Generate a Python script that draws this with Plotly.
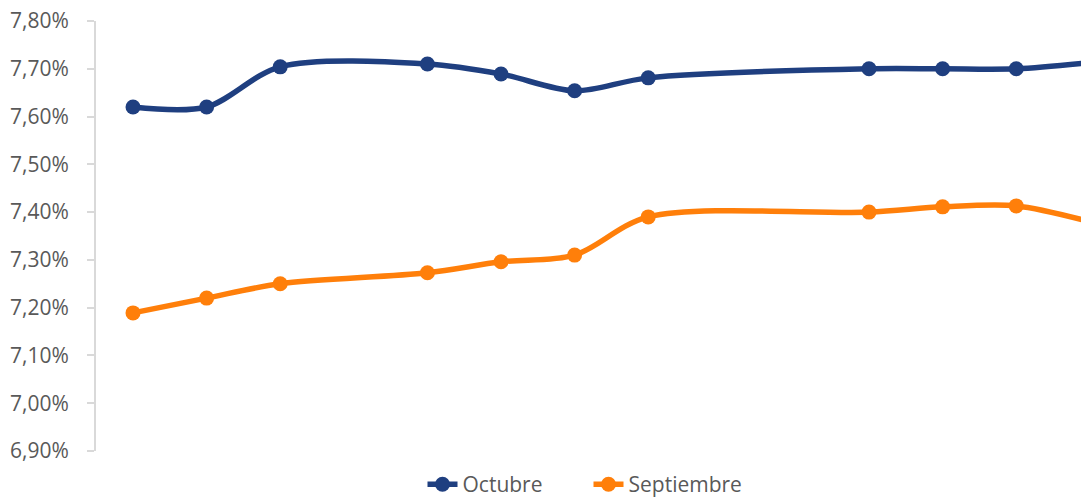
import plotly.graph_objects as go

# Day index of each observation (gaps = days without data)
dias = [0, 1, 2, 4, 5, 6, 7, 10, 11, 12, 13]
octubre = [7.620, 7.620, 7.704, 7.710, 7.689, 7.654, 7.681, 7.700, 7.700, 7.700, 7.713]
septiembre = [7.189, 7.220, 7.250, 7.273, 7.296, 7.310, 7.390, 7.400, 7.411, 7.413, 7.380]
y_ticks = [6.90, 7.00, 7.10, 7.20, 7.30, 7.40, 7.50, 7.60, 7.70, 7.80]
y_tick_labels = [f"{v:.2f}".replace(".", ",") + "%" for v in y_ticks]

BLUE = "#1f3f80"
ORANGE = "#ff7f0a"
TXT = "#595959"

fig = go.Figure()
for name, vals, col in [("Octubre", octubre, BLUE), ("Septiembre", septiembre, ORANGE)]:
    fig.add_trace(go.Scatter(
        x=dias, y=vals, name=name, mode="lines+markers",
        line=dict(color=col, width=5.5, shape="spline", smoothing=0.9),
        marker=dict(color=col, size=15),
    ))

fig.update_layout(
    width=1081, height=498,
    paper_bgcolor="white", plot_bgcolor="white",
    margin=dict(l=96, r=0, t=21, b=47, autoexpand=False),
    separators=",.",
    font=dict(family="Open Sans", size=21, color=TXT),
    showlegend=True,
    legend=dict(orientation="h", x=0.5, xanchor="center", y=-0.078, yanchor="middle",
                entrywidth=121, font=dict(size=21, color=TXT), bgcolor="rgba(0,0,0,0)",
                tracegroupgap=0),
)
fig.update_xaxes(visible=False, range=[-0.503, 12.88])
fig.update_yaxes(
    range=[6.90, 7.80], tickvals=y_ticks, ticktext=y_tick_labels,
    showgrid=False, zeroline=False, showline=True, linecolor="#d9d9d9", linewidth=2,
    ticks="outside", ticklen=7, tickwidth=2, tickcolor="#d9d9d9", ticklabelstandoff=14,
    tickfont=dict(family="Open Sans", size=21, color=TXT),
)

fig.write_html("out.html", config={"displayModeBar": False},
               post_script="document.body.style.margin='0px';")
